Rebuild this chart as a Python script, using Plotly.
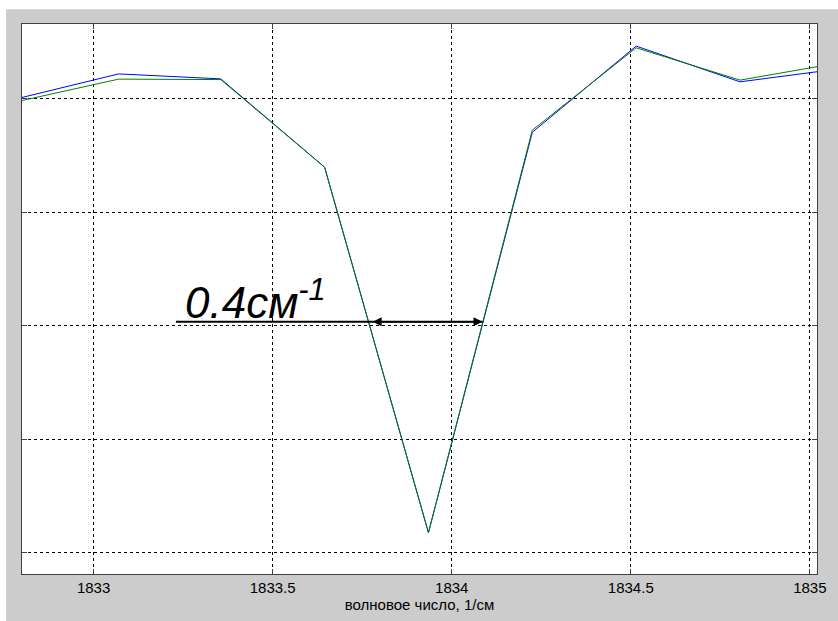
import plotly.graph_objects as go

# wavenumber grid (1/cm)
wavenumber = [1832.78, 1833.07, 1833.355, 1833.645, 1833.935, 1834.225, 1834.515, 1834.805, 1835.095]
# two spectra (arbitrary units)
spectrum_blue = [3.997, 4.220, 4.176, 3.397, 0.174, 3.705, 4.465, 4.150, 4.270]
spectrum_green = [3.971, 4.174, 4.170, 3.397, 0.174, 3.724, 4.450, 4.165, 4.325]

x_ticks = [1833, 1833.5, 1834, 1834.5, 1835]
x_tick_labels = ["1833", "1833.5", "1834", "1834.5", "1835"]
y_ticks = [0, 1, 2, 3, 4]

x_range = [1832.8, 1835.02]
y_range = [-0.19, 4.66]

# width marker (FWHM annotation)
width_label = "<i>0.4см<sup>-1</sup></i>"
marker_line_start = 1833.23
marker_left = 1833.775
marker_right = 1834.086
marker_level = 2.035

fig = go.Figure()
fig.add_trace(go.Scatter(x=wavenumber, y=spectrum_blue, mode="lines",
                         line=dict(color="#0000ff", width=1), showlegend=False))
fig.add_trace(go.Scatter(x=wavenumber, y=spectrum_green, mode="lines",
                         line=dict(color="#008000", width=1), showlegend=False))

# gray figure panel (white outer border on left/top), white plot area on top of it
PW, PH = 799, 558
fig.add_shape(type="rect", xref="paper", yref="paper",
              x0=-16 / PW, x1=830 / PW, y0=-60 / PH, y1=(582 - 9) / PH,
              fillcolor="#cccccc", line=dict(width=0), layer="below")
fig.add_shape(type="rect", xref="paper", yref="paper",
              x0=0, x1=1, y0=0, y1=1,
              fillcolor="white", line=dict(width=0), layer="below")

# horizontal line + double arrow
fig.add_shape(type="line", xref="x", yref="y",
              x0=marker_line_start, x1=marker_right, y0=marker_level, y1=marker_level,
              line=dict(color="black", width=2))
fig.add_annotation(x=marker_right, y=marker_level, ax=marker_left, ay=marker_level,
                   xref="x", yref="y", axref="x", ayref="y", text="",
                   showarrow=True, arrowhead=2, startarrowhead=2, arrowside="end+start",
                   arrowsize=1.2, startarrowsize=1.2, arrowwidth=1.5, arrowcolor="black")
fig.add_annotation(x=marker_line_start + 0.02, y=marker_level - 0.065, xref="x", yref="y",
                   text=width_label, showarrow=False, xanchor="left", yanchor="bottom",
                   font=dict(family="Liberation Sans, Arial", size=44, color="black"))

fig.update_layout(
    width=838, height=621,
    margin=dict(l=22, r=17, t=24, b=39),
    paper_bgcolor="white", plot_bgcolor="white",
    font=dict(family="Liberation Sans, Arial", size=15, color="black"),
)
fig.update_xaxes(range=x_range, tickvals=x_ticks, ticktext=x_tick_labels,
                 ticks="inside", ticklen=5, tickcolor="#404040",
                 showline=True, linecolor="#404040", linewidth=1, mirror="ticks",
                 showgrid=True, gridcolor="black", griddash="dot", gridwidth=1,
                 zeroline=False,
                 title=dict(text="волновое число, 1/см", standoff=2,
                            font=dict(size=15)))
fig.update_yaxes(range=y_range, tickvals=y_ticks, showticklabels=False,
                 ticks="inside", ticklen=5, tickcolor="#404040",
                 showline=True, linecolor="#404040", linewidth=1, mirror="ticks",
                 showgrid=True, gridcolor="black", griddash="dot", gridwidth=1,
                 zeroline=False)

fig.write_html("out.html")
